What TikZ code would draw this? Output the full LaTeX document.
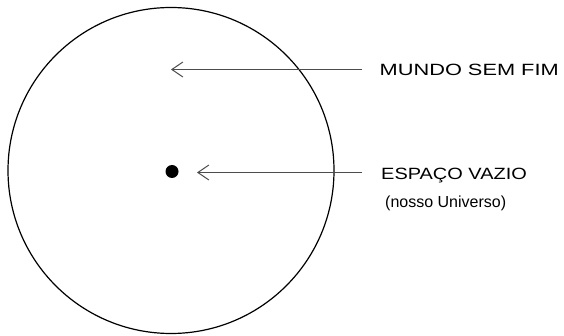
\documentclass[tikz,border=0pt]{standalone}
\usepackage{fontspec}
\setmainfont{Liberation Sans}
\usetikzlibrary{arrows.meta}
\begin{document}
\begin{tikzpicture}[x=1pt,y=-1pt,
  arr/.style={draw=black!70,line width=1pt,-{Straight Barb[length=11pt,width=15pt,line width=1pt]}},
  lbl/.style={anchor=base west,inner sep=0pt,font=\fontsize{16.3}{18}\selectfont},
  sub/.style={anchor=base west,inner sep=0pt,font=\fontsize{16}{18}\selectfont}]
\useasboundingbox (0,0) rectangle (564,336);
\node[draw,circle,line width=1.2pt,minimum size=326pt,inner sep=0pt] (world) at (171,170.5) {};
\node[circle,fill=black,minimum size=13pt,inner sep=0pt] (dot) at (172,171.5) {};
\node[lbl] (mundo) at (379.5,75.3) {\scalebox{1.336}[1]{MUNDO SEM FIM}};
\node[lbl] (espaco) at (381,180) {\scalebox{1.224}[1]{ESPAÇO VAZIO}};
\node[sub] (nosso) at (385,207.5) {(nosso Universo)};
\coordinate (s1) at (362,69.5);
\coordinate (t1) at (171,69.5);
\coordinate (s2) at (362,172.5);
\coordinate (t2) at (197,172.5);
\draw[arr] (s1) -- (t1);
\draw[arr] (s2) -- (t2);
\end{tikzpicture}
\end{document}
